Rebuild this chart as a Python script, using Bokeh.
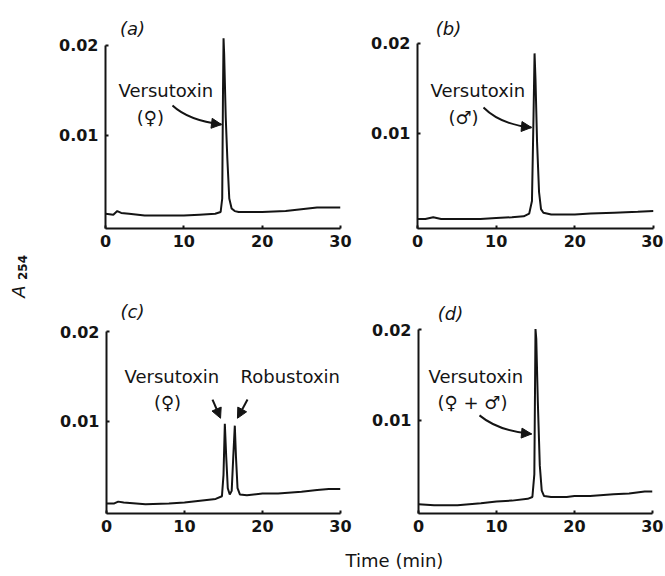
from math import pi
from bokeh.plotting import figure
from bokeh.models import Range1d, FixedTicker, PrintfTickFormatter, Label, Arrow, NormalHead
from bokeh.layouts import row, column
from bokeh.embed import file_html
from bokeh.resources import INLINE
from bokeh.core.properties import value

# ---------------- data ----------------
x_ticks = [0, 10, 20, 30]
y_ticks = [0.01, 0.02]

a_time = [0, 1.0, 1.5, 2.0, 3, 5, 8, 10, 12, 14, 14.7, 14.9, 15.0, 15.07, 15.15, 15.35, 15.55,
          15.8, 16.1, 16.5, 17, 20, 23, 25, 27, 30]
a_abs = [0.0013, 0.0012, 0.0016, 0.0014, 0.0013, 0.0011, 0.0011, 0.0011, 0.0012, 0.0013, 0.0015,
         0.0030, 0.0150, 0.0208, 0.0190, 0.0120, 0.0075, 0.0030, 0.0019, 0.0016, 0.0015, 0.0015,
         0.0016, 0.0018, 0.0020, 0.0020]

b_time = [0, 1, 2, 3, 5, 8, 10, 12, 13.5, 14.2, 14.55, 14.75, 14.88, 15.0, 15.2, 15.45, 15.7,
          16.0, 17, 20, 22, 25, 28, 30]
b_abs = [0.0005, 0.0005, 0.0007, 0.0005, 0.0005, 0.0005, 0.0006, 0.0007, 0.0008, 0.0011, 0.0025,
         0.0120, 0.0189, 0.0160, 0.0090, 0.0035, 0.0016, 0.0012, 0.0010, 0.0010, 0.0011, 0.0012,
         0.0013, 0.0014]

c_time = [0, 1, 1.5, 2.2, 5, 8, 10, 12, 14, 14.8, 15.0, 15.17, 15.35, 15.55, 15.8, 16.05, 16.25,
          16.45, 16.6, 16.8, 17.1, 18, 20, 22, 25, 27, 28.5, 30]
c_abs = [0.0008, 0.0008, 0.0010, 0.0009, 0.0007, 0.0008, 0.0009, 0.0011, 0.0013, 0.0016, 0.0040,
         0.0097, 0.0060, 0.0025, 0.0018, 0.0022, 0.0060, 0.0095, 0.0060, 0.0025, 0.0018, 0.0017,
         0.0019, 0.0019, 0.0021, 0.0023, 0.0024, 0.0024]

d_time = [0, 2, 5, 8, 10, 12, 14, 14.6, 14.85, 15.0, 15.1, 15.3, 15.55, 15.8, 16.1, 17, 19, 20,
          22, 25, 27, 29, 30]
d_abs = [0.0007, 0.0006, 0.0006, 0.0008, 0.0010, 0.0011, 0.0013, 0.0015, 0.0040, 0.0201, 0.0190,
         0.0120, 0.0050, 0.0022, 0.0016, 0.0015, 0.0015, 0.0016, 0.0016, 0.0018, 0.0019, 0.0021,
         0.0021]

panel_tags = ["(a)", "(b)", "(c)", "(d)"]
y_label_main = "A"
y_label_sub = "254"
x_label = "Time (min)"

INK = "#141414"
FONT = "DejaVu Sans"


def panel(t, v, w, h, bl, br, bt, bb, y0, y1):
    p = figure(width=w, height=h, x_range=Range1d(0, 30), y_range=Range1d(y0, y1),
               output_backend="svg", toolbar_location=None, title=None,
               min_border_left=bl, min_border_right=br, min_border_top=bt, min_border_bottom=bb)
    p.outline_line_color = None
    p.grid.visible = False
    p.background_fill_color = "white"
    p.line(t, v, line_color=INK, line_width=2)
    p.xaxis.ticker = FixedTicker(ticks=x_ticks)
    p.yaxis.ticker = FixedTicker(ticks=y_ticks)
    p.yaxis.formatter = PrintfTickFormatter(format="%.2f")
    for ax in (p.xaxis[0], p.yaxis[0]):
        ax.axis_line_color = INK
        ax.axis_line_width = 2
        ax.major_tick_line_color = INK
        ax.major_tick_line_width = 2
        ax.major_tick_in = 3
        ax.major_tick_out = 0
        ax.minor_tick_line_color = None
        ax.major_label_text_font = FONT
        ax.major_label_text_font_size = "16px"
        ax.major_label_text_font_style = "bold"
        ax.major_label_text_color = INK
    p.xaxis.bounds = (0, 30)
    p.yaxis.bounds = (y0, 0.02)
    p.xaxis.major_label_standoff = 6
    p.yaxis.major_label_standoff = 7
    return p


def txt(p, x, y, s, align="left", italic=False, size="18px"):
    p.add_layout(Label(x=x, y=y, text=s, text_font=FONT, text_font_size=size,
                       text_font_style="italic" if italic else "normal",
                       text_align=align, text_baseline="middle", text_color=INK))


def head(p, xs, ys, xe, ye):
    p.add_layout(Arrow(end=NormalHead(size=10, fill_color=INK, line_color=INK, line_width=1),
                       x_start=xs, y_start=ys, x_end=xe, y_end=ye,
                       line_color=INK, line_width=2))


def curved_arrow(p, x0, y0, cx, cy, x1, y1):
    p.quadratic(x0=[x0], y0=[y0], x1=[x1], y1=[y1], cx=[cx], cy=[cy],
                line_color=INK, line_width=2)
    head(p, x1 - 0.3 * (x1 - cx), y1 - 0.3 * (y1 - cy), x1, y1)


# ---------------- panels ----------------
pa = panel(a_time, a_abs, 317, 282, 67, 15, 14, 54, -0.000333, 0.023444)
txt(pa, 3.45, 0.0219, panel_tags[0], align="center", italic=True)
txt(pa, 1.66, 0.0150, "Versutoxin")
txt(pa, 5.74, 0.0120, "(\u2640)", align="center")
curved_arrow(pa, 8.55, 0.01333, 10.6, 0.01167, 14.81, 0.01122)

pb = panel(b_time, b_abs, 308, 282, 62, 10, 14, 54, -0.000556, 0.023222)
txt(pb, 3.94, 0.02167, panel_tags[1], align="center", italic=True)
txt(pb, 1.65, 0.01478, "Versutoxin")
txt(pb, 5.85, 0.01178, "(\u2642)", align="center")
curved_arrow(pb, 8.39, 0.01289, 10.55, 0.01100, 14.49, 0.01067)

pc = panel(c_time, c_abs, 317, 262, 68, 15, 14, 31, -0.00033, 0.023956)
txt(pc, 3.33, 0.02231, panel_tags[2], align="center", italic=True)
txt(pc, 2.31, 0.01505, "Versutoxin")
txt(pc, 7.82, 0.01209, "(\u2640)", align="center")
txt(pc, 17.18, 0.01505, "Robustoxin")
head(pc, 13.59, 0.01242, 14.62, 0.01033)
head(pc, 18.08, 0.01242, 16.79, 0.01033)

pd = panel(d_time, d_abs, 308, 262, 63, 11, 14, 31, -0.000326, 0.0237)
txt(pd, 4.10, 0.02185, panel_tags[3], align="center", italic=True)
txt(pd, 1.28, 0.01489, "Versutoxin")
txt(pd, 6.92, 0.01196, "(\u2640 + \u2642)", align="center")
curved_arrow(pd, 7.82, 0.01054, 10.26, 0.0088, 14.49, 0.00848)

# ---------------- shared axis titles ----------------
L = figure(width=38, height=574, x_range=Range1d(0, 38), y_range=Range1d(574, 0),
           x_axis_type=None, y_axis_type=None, output_backend="svg",
           toolbar_location=None, title=None, min_border=0)
L.outline_line_color = None
L.text(x=[18], y=[291], text=[y_label_main], angle=pi / 2, text_font=value(FONT),
       text_font_style="italic", text_font_size="18px", text_align="center",
       text_baseline="middle", text_color=INK)
L.text(x=[22], y=[267], text=[y_label_sub], angle=pi / 2, text_font=value(FONT),
       text_font_style="bold", text_font_size="12px", text_align="center",
       text_baseline="middle", text_color=INK)

B = figure(width=625, height=30, x_range=Range1d(0, 625), y_range=Range1d(30, 0),
           x_axis_type=None, y_axis_type=None, output_backend="svg",
           toolbar_location=None, title=None, min_border=0)
B.outline_line_color = None
B.text(x=[356], y=[16], text=[x_label], text_font=value(FONT), text_font_size="18px",
       text_align="center", text_baseline="middle", text_color=INK)

layout = row(L, column(row(pa, pb), row(pc, pd), B))

open("out.html", "w").write(file_html(layout, INLINE))
